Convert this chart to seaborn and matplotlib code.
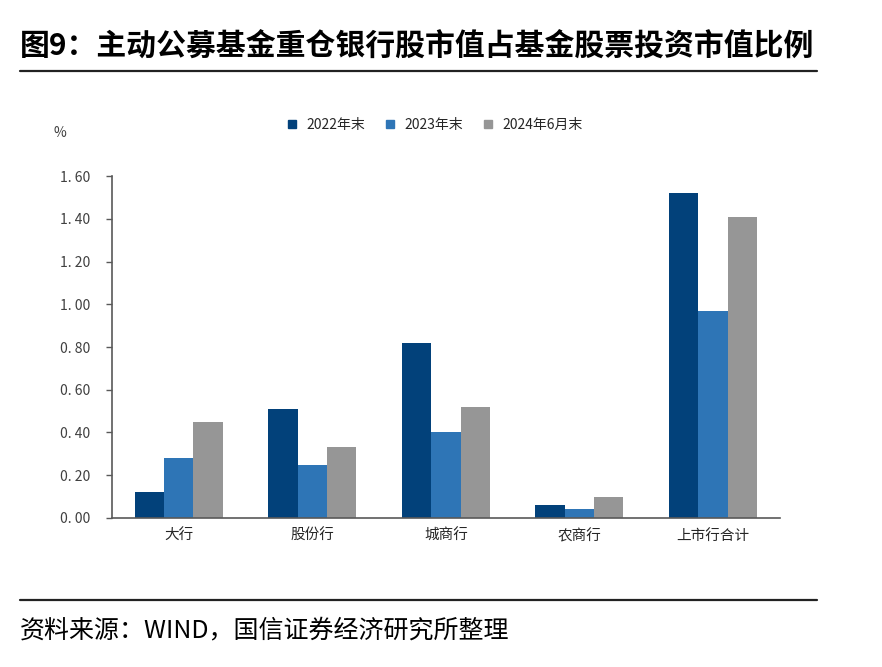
import pandas as pd
import matplotlib
matplotlib.use("Agg")
import matplotlib.pyplot as plt
from matplotlib.lines import Line2D
import seaborn as sns

# ── Data ──────────────────────────────────────────────────────────────────────
CATEGORIES = ["大行", "股份行", "城商行", "农商行", "上市行合计"]
SERIES     = ["2022年末", "2023年末", "2024年6月末"]
V_2022     = [0.12, 0.51, 0.82, 0.06, 1.52]
V_2023     = [0.28, 0.25, 0.40, 0.04, 0.97]
V_2024H1   = [0.45, 0.33, 0.52, 0.10, 1.41]
Y_TICKS    = [0.0, 0.2, 0.4, 0.6, 0.8, 1.0, 1.2, 1.4, 1.6]

TITLE  = "图9：主动公募基金重仓银行股市值占基金股票投资市值比例"
SOURCE = "资料来源：WIND，国信证券经济研究所整理"

COLORS = ["#02417A", "#2E75B6", "#969696"]
AXIS_C = "#595959"

sns.set_style("white")
plt.rcParams["font.family"] = ["Noto Sans CJK SC", "DejaVu Sans"]

df = pd.DataFrame({
    "cat": CATEGORIES * 3,
    "series": [SERIES[0]] * 5 + [SERIES[1]] * 5 + [SERIES[2]] * 5,
    "value": V_2022 + V_2023 + V_2024H1,
})

fig = plt.figure(figsize=(8.82, 6.67), dpi=100, facecolor="white")
ax = fig.add_axes([0.127, 0.2234, 0.757, 0.5127])

sns.barplot(data=df, x="cat", y="value", hue="series", palette=COLORS,
            width=0.66, gap=0, saturation=1, edgecolor="none",
            legend=False, ax=ax)

ax.set_xlim(-0.5, 4.5)
ax.set_ylim(0, 1.6)
ax.set_yticks(Y_TICKS)
ax.set_yticklabels([f"{v:.2f}".replace(".", ". ") for v in Y_TICKS],
                   fontsize=10, color="#404040")
ax.set_xlabel("")
ax.set_ylabel("")
ax.tick_params(axis="x", length=0, labelsize=10.5, colors="#262626", pad=8)
ax.set_xticks([0.5, 1.5, 2.5, 3.5, 4.5], minor=True)
ax.tick_params(axis="x", which="minor", direction="in", length=4,
               color=AXIS_C, width=1)
ax.tick_params(axis="y", direction="out", length=4, color=AXIS_C,
               width=1, left=True, pad=12)
for s in ["top", "right"]:
    ax.spines[s].set_visible(False)
for s in ["left", "bottom"]:
    ax.spines[s].set_color(AXIS_C)
    ax.spines[s].set_linewidth(1.2)

# unit label
fig.text(60 / 882, 1 - 133 / 667, "%", fontsize=10, color="#404040",
         ha="center", va="center")

# legend
handles = [Line2D([0], [0], marker="s", linestyle="none", markersize=6,
                  markerfacecolor=c, markeredgecolor=c) for c in COLORS]
fig.legend(handles, SERIES, loc="center", bbox_to_anchor=(0.488, 1 - 125 / 667),
           ncol=3, frameon=False, fontsize=10, handletextpad=0.05,
           columnspacing=0.8, borderaxespad=0)

# title + rules
fig.text(20 / 882, 1 - 47 / 667, TITLE, fontsize=21.5, fontweight="bold",
         color="black", ha="left", va="center")
fig.add_artist(Line2D([20 / 882, 817 / 882], [1 - 71 / 667] * 2,
                      color="#222222", linewidth=1.6))
fig.add_artist(Line2D([20 / 882, 817 / 882], [1 - 600 / 667] * 2,
                      color="#222222", linewidth=1.6))
fig.text(20 / 882, 1 - 630 / 667, SOURCE, fontsize=18, color="black",
         ha="left", va="center")

plt.savefig("out.png", dpi=100, facecolor="white")
plt.close()
